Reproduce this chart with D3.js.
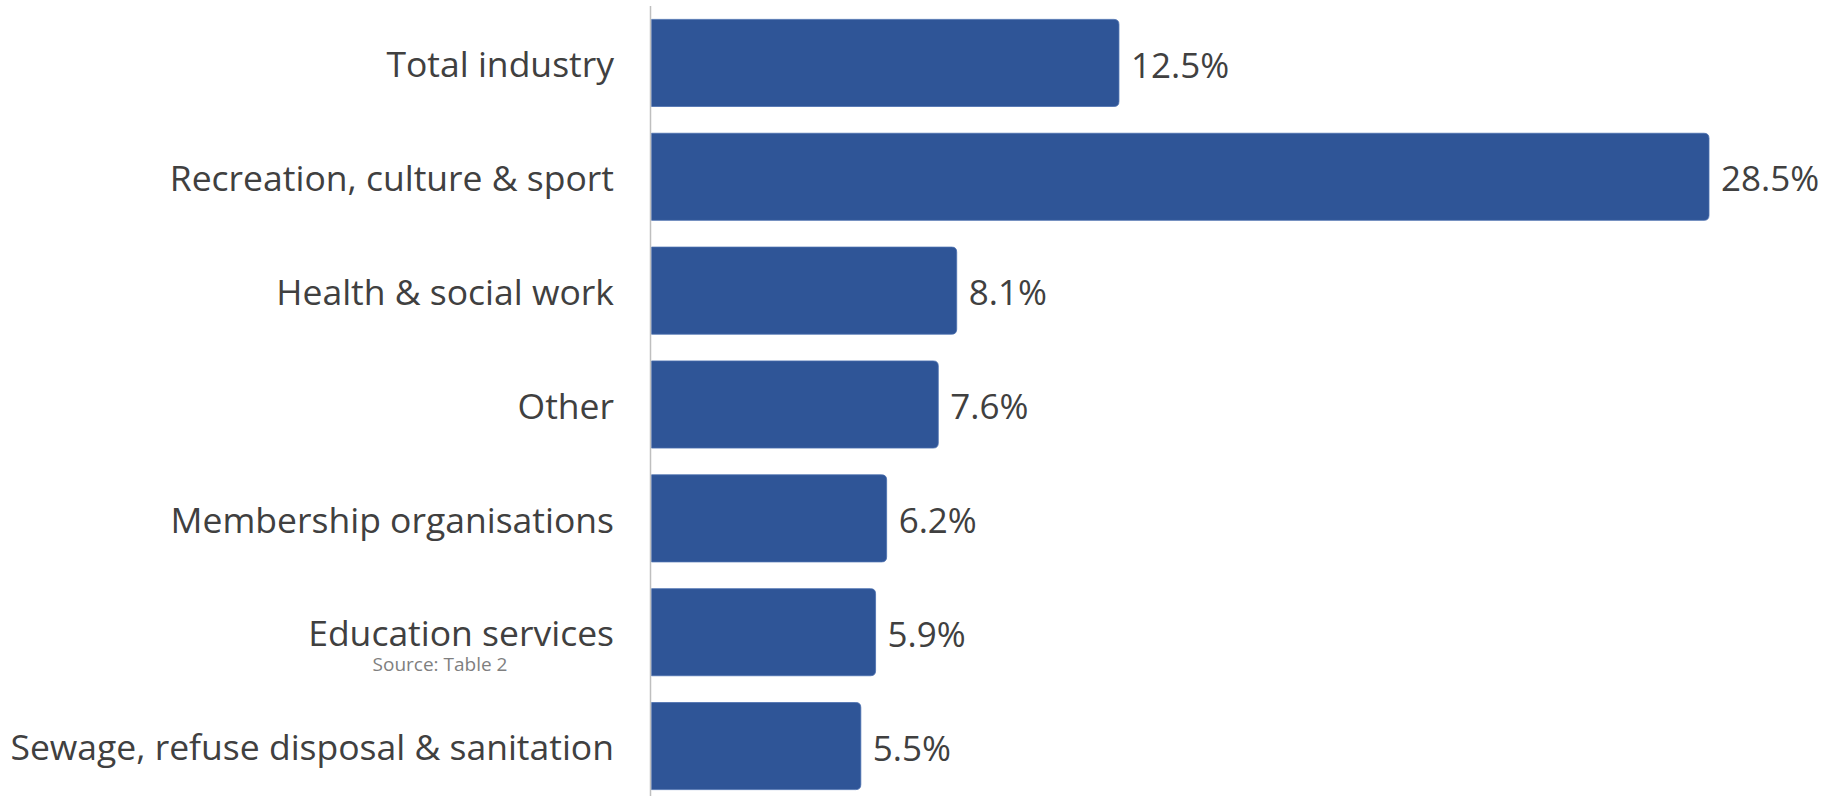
<!DOCTYPE html>
<html>
<head>
<meta charset="utf-8">
<script src="https://cdn.jsdelivr.net/npm/d3@7"></script>
<style>
  html, body { margin: 0; padding: 0; background: #ffffff; }
  svg { display: block; }
</style>
</head>
<body>
<svg id="chart" width="1831" height="796"></svg>
<script>
const categories = [
  "Total industry",
  "Recreation, culture & sport",
  "Health & social work",
  "Other",
  "Membership organisations",
  "Education services",
  "Sewage, refuse disposal & sanitation"
];
const values = [12.5, 28.5, 8.1, 7.6, 6.2, 5.9, 5.5];
const sourceNote = "Source: Table 2";

const W = 1831, H = 796;
const svg = d3.select("#chart");
const fontFamily = "'Open Sans', 'Noto Sans', sans-serif";
const barColor = "#2F5597";
const textColor = "#404040";

const axisX = 650.5;
const x = d3.scaleLinear().domain([0, 28.5]).range([658, 1709]);
const y = d3.scaleBand().domain(categories).range([6, 803]).paddingInner(0.235).paddingOuter(0.1175);

const data = categories.map((c, i) => ({ cat: c, val: values[i] }));

function barPath(x0, x1, y0, h, r) {
  return `M${x0},${y0}H${x1 - r}Q${x1},${y0} ${x1},${y0 + r}V${y0 + h - r}Q${x1},${y0 + h} ${x1 - r},${y0 + h}H${x0}Z`;
}

svg.append("g").selectAll("path").data(data).join("path")
  .attr("d", d => barPath(axisX + 1, x(d.val), y(d.cat), y.bandwidth(), 5))
  .attr("fill", barColor)
  .attr("stroke", "#4a6fae")
  .attr("stroke-width", 0.8);

// vertical axis line
svg.append("line")
  .attr("x1", axisX).attr("x2", axisX)
  .attr("y1", 6).attr("y2", H)
  .attr("stroke", "#bfbfbf").attr("stroke-width", 1.5);

// category labels
const yAxis = d3.axisLeft(y).tickSize(0).tickPadding(0);
const gy = svg.append("g").attr("transform", `translate(614,0)`).call(yAxis);
gy.select(".domain").remove();
gy.selectAll("text")
  .attr("font-family", fontFamily)
  .attr("font-size", 35.5)
  .attr("fill", textColor)
  .attr("dy", "0.4em");

// value labels
svg.append("g").selectAll("text").data(data).join("text")
  .attr("x", d => x(d.val) + 12)
  .attr("y", d => y(d.cat) + y.bandwidth() / 2)
  .attr("dy", "0.42em")
  .attr("font-family", fontFamily)
  .attr("font-size", 35)
  .attr("fill", textColor)
  .text(d => d.val.toFixed(1) + "%");

// source note
svg.append("text")
  .attr("x", 440).attr("y", 671)
  .attr("text-anchor", "middle")
  .attr("font-family", fontFamily)
  .attr("font-size", 19)
  .attr("fill", "#7f7f7f")
  .text(sourceNote);
</script>
</body>
</html>
